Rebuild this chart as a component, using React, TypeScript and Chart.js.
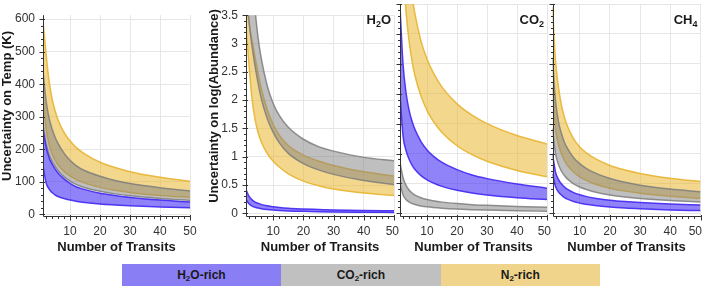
import React, { useEffect, useRef } from 'react';
import { Chart, registerables } from 'chart.js';

Chart.register(...registerables);

const FONT = '"Liberation Sans", Arial, Helvetica, sans-serif';

// Number of transits (x positions of the read points)
const transits = [1, 2, 3, 4, 5, 6, 8, 10, 12, 15, 20, 25, 30, 40, 50];

// Panel 1 : uncertainty on temperature (K)
const tempN2Hi = [595, 495, 411, 356, 319, 291, 252, 226, 206, 185, 160, 144, 131, 114, 102];
const tempN2Lo = [360, 265, 216, 187, 167, 152, 132, 118, 108, 96, 83, 74, 67.5, 58, 52];
const tempCO2Hi = [440, 350, 297, 263, 238, 218, 188, 166, 150, 134, 117, 104, 95, 82, 72];
const tempCO2Lo = [275, 218, 185, 164, 148, 135, 116, 102, 92, 82, 71, 63, 57, 49, 43];
const tempH2OHi = [262, 208, 175, 155, 140, 127, 109, 95, 85, 76, 65, 58, 52, 44, 38];
const tempH2OLo = [150, 98, 78, 67, 60, 55, 48.5, 44, 40.5, 36.5, 32, 29, 26.5, 23, 20];

// Panel 2 : H2O abundance
const h2oN2Hi = [3.7, 3.35, 3.05, 2.76, 2.48, 2.22, 1.84, 1.57, 1.38, 1.2, 1.03, 0.925, 0.845, 0.735, 0.66];
const h2oN2Lo = [3.3, 2.62, 2.02, 1.66, 1.43, 1.27, 1.06, 0.92, 0.82, 0.7, 0.57, 0.49, 0.43, 0.36, 0.32];
const h2oCO2Hi = [9.0, 6.0, 4.4, 3.6, 3.1, 2.75, 2.26, 1.94, 1.73, 1.52, 1.31, 1.18, 1.1, 0.99, 0.93];
const h2oCO2Lo = [4.2, 3.4, 2.95, 2.6, 2.3, 2.04, 1.68, 1.43, 1.25, 1.06, 0.88, 0.77, 0.69, 0.58, 0.51];
const h2oH2OHi = [0.42, 0.3, 0.24, 0.2, 0.18, 0.16, 0.135, 0.12, 0.105, 0.09, 0.078, 0.07, 0.062, 0.053, 0.047];
const h2oH2OLo = [0.25, 0.17, 0.13, 0.11, 0.095, 0.085, 0.07, 0.06, 0.053, 0.045, 0.037, 0.031, 0.027, 0.022, 0.018];

// Panel 3 : CO2 abundance
const co2N2Hi = [8.13, 5.76, 4.7, 4.07, 3.64, 3.33, 2.88, 2.58, 2.36, 2.11, 1.83, 1.64, 1.5, 1.3, 1.16];
const co2N2Lo = [6.06, 4.2, 3.38, 2.89, 2.55, 2.3, 1.96, 1.72, 1.545, 1.35, 1.13, 0.98, 0.87, 0.716, 0.61];
const co2CO2Hi = [0.85, 0.6, 0.47, 0.39, 0.34, 0.305, 0.26, 0.23, 0.21, 0.187, 0.162, 0.145, 0.133, 0.115, 0.1];
const co2CO2Lo = [0.5, 0.31, 0.23, 0.19, 0.165, 0.147, 0.124, 0.108, 0.097, 0.085, 0.071, 0.061, 0.054, 0.042, 0.034];
const co2H2OHi = [3.45, 2.5, 2.02, 1.73, 1.54, 1.4, 1.2, 1.06, 0.96, 0.85, 0.73, 0.64, 0.58, 0.49, 0.42];
const co2H2OLo = [2.0, 1.3, 1.05, 0.907, 0.807, 0.734, 0.63, 0.56, 0.508, 0.45, 0.385, 0.34, 0.308, 0.262, 0.23];

// Panel 4 : CH4 abundance
const ch4N2Hi = [3.45, 2.55, 2.1, 1.8, 1.6, 1.45, 1.245, 1.11, 1.02, 0.918, 0.8, 0.725, 0.667, 0.586, 0.53];
const ch4N2Lo = [2.1, 1.42, 1.15, 0.99, 0.88, 0.8, 0.69, 0.61, 0.554, 0.49, 0.42, 0.371, 0.335, 0.285, 0.25];
const ch4CO2Hi = [2.6, 1.88, 1.53, 1.325, 1.18, 1.08, 0.93, 0.83, 0.757, 0.675, 0.581, 0.518, 0.471, 0.405, 0.36];
const ch4CO2Lo = [1.42, 0.999, 0.814, 0.703, 0.627, 0.572, 0.494, 0.44, 0.401, 0.357, 0.308, 0.274, 0.249, 0.214, 0.19];
const ch4H2OHi = [1.0, 0.69, 0.564, 0.489, 0.437, 0.399, 0.346, 0.31, 0.283, 0.253, 0.22, 0.197, 0.18, 0.156, 0.14];
const ch4H2OLo = [0.66, 0.45, 0.357, 0.302, 0.264, 0.236, 0.197, 0.17, 0.15, 0.129, 0.104, 0.087, 0.075, 0.057, 0.045];

// Ticks
const xMajorTicks = [10, 20, 30, 40, 50];
const tempTicks = [0, 100, 200, 300, 400, 500, 600];
const abundTicks = [0, 0.5, 1, 1.5, 2, 2.5, 3, 3.5];

// Legend
const legendGroups = [
  { main: 'H', sub: '2', tail: 'O-rich', color: '#8a7ef5' },
  { main: 'CO', sub: '2', tail: '-rich', color: '#c0c0c0' },
  { main: 'N', sub: '2', tail: '-rich', color: '#f0d48c' },
];

const H2O_STYLE = { fill: 'rgba(70,48,245,0.6)', line: 'rgba(72,46,242,0.95)' };
const CO2_STYLE = { fill: 'rgba(128,128,128,0.5)', line: 'rgba(125,125,125,0.85)' };
const N2_STYLE = { fill: 'rgba(232,182,45,0.55)', line: 'rgba(232,180,50,0.9)' };

const GRID = '#e6e6e6';
const AXIS = '#333333';
const TEXT = '#333333';
const TITLE = '#1a1a1a';

type Band = { hi: number[]; lo: number[]; fill: string; line: string };

interface PanelProps {
  canvasLeft: number;
  canvasWidth: number;
  canvasHeight: number;
  areaLeft: number;
  areaRight: number;
  areaTop: number;
  areaBottom: number;
  yMin: number;
  yMax: number;
  yTicks: number[];
  yMinor: number;
  showYLabels: boolean;
  yTitle?: string;
  yTitleX?: number;
  species?: [string, string, string];
  bands: Band[];
}

function Panel(p: PanelProps) {
  const ref = useRef<HTMLCanvasElement>(null);
  useEffect(() => {
    const canvas = ref.current;
    if (!canvas) return;
    const datasets: any[] = [];
    p.bands.forEach((b) => {
      datasets.push({
        data: transits.map((x, i) => ({ x, y: b.hi[i] })),
        borderColor: b.line,
        backgroundColor: b.fill,
        borderWidth: 1.5,
        pointRadius: 0,
        fill: '+1',
        cubicInterpolationMode: 'monotone',
      });
      datasets.push({
        data: transits.map((x, i) => ({ x, y: b.lo[i] })),
        borderColor: b.line,
        backgroundColor: b.fill,
        borderWidth: 1.5,
        pointRadius: 0,
        fill: false,
        cubicInterpolationMode: 'monotone',
      });
    });

    const yMajorStep = p.yTicks[1] - p.yTicks[0];
    const X_MINOR = 2;

    const decor = {
      id: 'decor',
      afterDraw(chart: any) {
        const { ctx, chartArea: a } = chart;
        const xs = chart.scales.x;
        const ys = chart.scales.y;
        ctx.save();
        ctx.strokeStyle = AXIS;
        ctx.lineWidth = 1;
        const ax = Math.round(a.left) + 0.5;
        const ay = Math.round(a.bottom) + 0.5;
        ctx.beginPath();
        ctx.moveTo(ax, a.top);
        ctx.lineTo(ax, ay);
        ctx.lineTo(a.right + 0.5, ay);
        // x ticks
        for (let k = 1; k * X_MINOR <= 50; k++) {
          const v = k * X_MINOR;
          const major = v % 10 === 0;
          const px = Math.round(xs.getPixelForValue(v)) + 0.5;
          ctx.moveTo(px, ay - (major ? 1.5 : 0));
          ctx.lineTo(px, ay + (major ? 4 : 2.5));
        }
        // y ticks
        const k0 = Math.ceil(p.yMin / p.yMinor - 1e-9);
        const k1 = Math.floor(p.yMax / p.yMinor + 1e-9);
        for (let k = k0; k <= k1; k++) {
          const v = k * p.yMinor;
          const r = v / yMajorStep;
          const major = Math.abs(r - Math.round(r)) < 1e-6;
          const py = Math.round(ys.getPixelForValue(v)) + 0.5;
          ctx.moveTo(ax + (major ? 1.5 : 0), py);
          ctx.lineTo(ax - (major ? 4 : 2.5), py);
        }
        ctx.stroke();

        // x tick labels
        ctx.fillStyle = TEXT;
        ctx.font = `12px ${FONT}`;
        ctx.textAlign = 'center';
        ctx.textBaseline = 'middle';
        xMajorTicks.forEach((v) => {
          const label = String(v);
          const w = ctx.measureText(label).width;
          let px = xs.getPixelForValue(v);
          if (px + w / 2 > chart.width - 1) px = chart.width - 1 - w / 2;
          ctx.fillText(label, px, 232);
        });

        // x title
        ctx.fillStyle = TITLE;
        ctx.font = `bold 13px ${FONT}`;
        ctx.fillText('Number of Transits', (a.left + a.right) / 2, 247);

        // y title
        if (p.yTitle && p.yTitleX !== undefined) {
          ctx.save();
          ctx.translate(p.yTitleX - p.canvasLeft, 106);
          ctx.rotate(-Math.PI / 2);
          ctx.fillText(p.yTitle, 0, 0);
          ctx.restore();
        }

        // species label
        if (p.species) {
          const [m, s, t] = p.species;
          ctx.textAlign = 'left';
          ctx.textBaseline = 'alphabetic';
          const big = `bold 13px ${FONT}`;
          const small = `bold 9px ${FONT}`;
          ctx.font = big;
          const wm = ctx.measureText(m).width;
          const wt = ctx.measureText(t).width;
          ctx.font = small;
          const ws = ctx.measureText(s).width;
          let x0 = a.right - 3 - (wm + ws + wt);
          const base = 24;
          ctx.font = big;
          ctx.fillText(m, x0, base);
          x0 += wm;
          ctx.font = small;
          ctx.fillText(s, x0, base + 2.5);
          x0 += ws;
          ctx.font = big;
          ctx.fillText(t, x0, base);
        }
        ctx.restore();
      },
    };

    const chart = new Chart(canvas, {
      type: 'line',
      data: { datasets },
      options: {
        animation: false,
        responsive: false,
        maintainAspectRatio: false,
        events: [],
        layout: {
          autoPadding: false,
          padding: {
            left: 0,
            top: p.areaTop,
            right: p.canvasWidth - (p.areaRight - p.canvasLeft),
            bottom: 0,
          },
        },
        plugins: {
          legend: { display: false },
          tooltip: { enabled: false },
          title: { display: false },
        },
        scales: {
          x: {
            type: 'linear',
            min: 1,
            max: 50,
            afterBuildTicks: (s: any) => {
              s.ticks = xMajorTicks.map((v) => ({ value: v }));
            },
            afterFit: (s: any) => {
              s.height = p.canvasHeight - p.areaBottom;
            },
            ticks: { display: false },
            grid: { color: GRID, drawTicks: false, lineWidth: 1 },
            border: { display: false },
          },
          y: {
            type: 'linear',
            min: p.yMin,
            max: p.yMax,
            afterBuildTicks: (s: any) => {
              s.ticks = p.yTicks.map((v) => ({ value: v }));
            },
            afterFit: (s: any) => {
              s.width = p.areaLeft - p.canvasLeft;
            },
            ticks: {
              display: p.showYLabels,
              padding: 8,
              color: TEXT,
              font: { family: FONT, size: 12 },
              callback: (v: any) => String(v),
            },
            grid: { color: GRID, drawTicks: false, lineWidth: 1 },
            border: { display: false },
          },
        },
      } as any,
      plugins: [decor],
    });
    return () => chart.destroy();
  }, []);
  return (
    <canvas
      ref={ref}
      width={p.canvasWidth}
      height={p.canvasHeight}
      style={{ position: 'absolute', left: p.canvasLeft, top: 0, width: p.canvasWidth, height: p.canvasHeight }}
    />
  );
}

const CH = 262;

export default function App() {
  const band = (hi: number[], lo: number[], st: { fill: string; line: string }): Band => ({ hi, lo, ...st });
  return (
    <div style={{ position: 'fixed', left: 0, top: 0, width: 703, height: 286, overflow: 'hidden', background: '#fff' }}>
      <Panel
        canvasLeft={0} canvasWidth={200} canvasHeight={CH}
        areaLeft={43} areaRight={190} areaTop={5} areaBottom={216}
        yMin={-5} yMax={612} yTicks={tempTicks} yMinor={20} showYLabels
        yTitle="Uncertainty on Temp (K)" yTitleX={7}
        bands={[band(tempH2OHi, tempH2OLo, H2O_STYLE), band(tempCO2Hi, tempCO2Lo, CO2_STYLE), band(tempN2Hi, tempN2Lo, N2_STYLE)]}
      />
      <Panel
        canvasLeft={200} canvasWidth={200} canvasHeight={CH}
        areaLeft={246} areaRight={394} areaTop={4} areaBottom={216}
        yMin={-0.045} yMax={3.5} yTicks={abundTicks} yMinor={0.1} showYLabels
        yTitle="Uncertainty on log(Abundance)" yTitleX={214}
        species={['H', '2', 'O']}
        bands={[band(h2oH2OHi, h2oH2OLo, H2O_STYLE), band(h2oCO2Hi, h2oCO2Lo, CO2_STYLE), band(h2oN2Hi, h2oN2Lo, N2_STYLE)]}
      />
      <Panel
        canvasLeft={396} canvasWidth={156} canvasHeight={CH}
        areaLeft={400} areaRight={547} areaTop={4} areaBottom={216}
        yMin={-0.045} yMax={3.5} yTicks={abundTicks} yMinor={0.1} showYLabels={false}
        species={['CO', '2', '']}
        bands={[band(co2H2OHi, co2H2OLo, H2O_STYLE), band(co2CO2Hi, co2CO2Lo, CO2_STYLE), band(co2N2Hi, co2N2Lo, N2_STYLE)]}
      />
      <Panel
        canvasLeft={549} canvasWidth={154} canvasHeight={CH}
        areaLeft={552.5} areaRight={700.5} areaTop={4} areaBottom={216}
        yMin={-0.045} yMax={3.5} yTicks={abundTicks} yMinor={0.1} showYLabels={false}
        species={['CH', '4', '']}
        bands={[band(ch4H2OHi, ch4H2OLo, H2O_STYLE), band(ch4CO2Hi, ch4CO2Lo, CO2_STYLE), band(ch4N2Hi, ch4N2Lo, N2_STYLE)]}
      />
      {legendGroups.map((g, i) => (
        <div
          key={g.main}
          style={{
            position: 'absolute',
            left: 121.7 + i * 159.45,
            top: 264,
            width: 159.45,
            height: 22,
            background: g.color,
            display: 'flex',
            alignItems: 'center',
            justifyContent: 'center',
            fontFamily: FONT,
            fontWeight: 'bold',
            fontSize: 12,
            color: '#1a1a1a',
            whiteSpace: 'nowrap',
          }}
        >
          <span>
            {g.main}
            <span style={{ fontSize: 8, position: 'relative', top: 2 }}>{g.sub}</span>
            {g.tail}
          </span>
        </div>
      ))}
    </div>
  );
}
